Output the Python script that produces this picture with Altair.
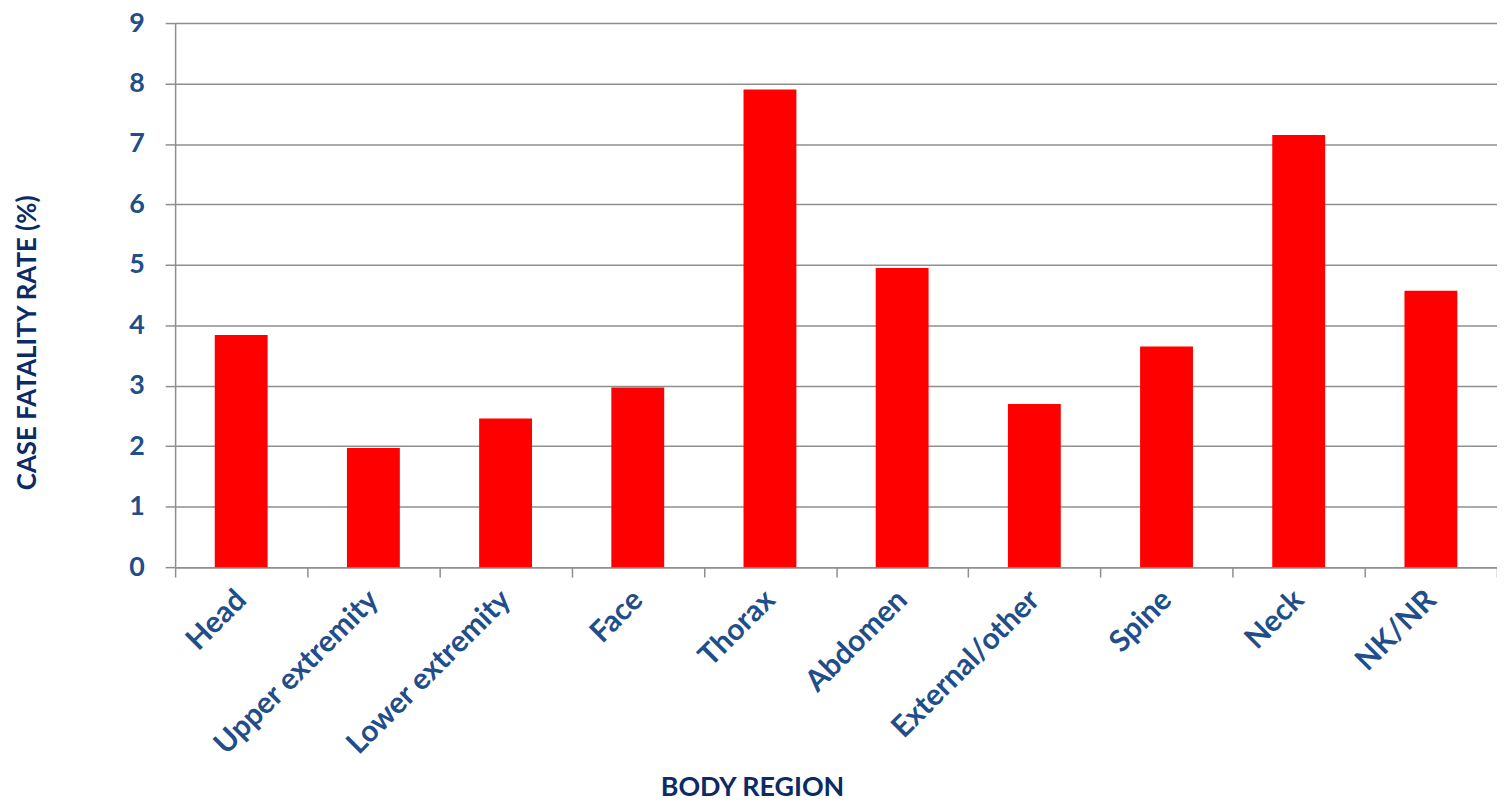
import altair as alt
import pandas as pd

regions = ["Head", "Upper extremity", "Lower extremity", "Face", "Thorax",
           "Abdomen", "External/other", "Spine", "Neck", "NK/NR"]
rates = [3.84, 1.97, 2.46, 2.97, 7.90, 4.95, 2.70, 3.65, 7.15, 4.57]

df = pd.DataFrame({"region": regions, "rate": rates})

W = 1329
H = 547
FONT = "Lato"
LABEL_COLOR = "#1F4E8A"
TITLE_COLOR = "#0B2A66"
GRID = "#8F8F8F"

chart = alt.Chart(df).mark_bar(color="#FF0000", width=alt.RelativeBandSize(0.4)).encode(
    x=alt.X("region:N", sort=regions,
            scale=alt.Scale(paddingInner=0, paddingOuter=0),
            axis=alt.Axis(title="BODY REGION", labelAngle=-45, labelAlign="right",
                          labelBaseline="middle", labelFontSize=30, labelFont=FONT,
                          labelFontWeight="bold", labelColor=LABEL_COLOR,
                          labelPadding=18, labelLimit=500, tickSize=10, tickColor=GRID,
                          tickWidth=1.5, tickBand="extent", domainColor=GRID,
                          domainWidth=1.5, titleFont=FONT, titleFontSize=27,
                          titleFontWeight="bold", titleColor=TITLE_COLOR, titleX=580,
                          titleY=222, titleBaseline="middle", titleAnchor="middle",
                          titleAlign="center", labelOverlap=False)),
    y=alt.Y("rate:Q", scale=alt.Scale(domain=[0, 9], nice=False),
            axis=alt.Axis(title="CASE FATALITY RATE (%)", values=list(range(10)),
                          labelFontSize=27, labelFont=FONT, labelFontWeight="bold",
                          labelColor=LABEL_COLOR, labelPadding=21, tickSize=10,
                          tickColor=GRID, tickWidth=1.5, grid=True, gridColor=GRID,
                          gridWidth=1.5, domainColor=GRID, domainWidth=1.5,
                          titleFont=FONT, titleFontSize=26, titleFontWeight="bold",
                          titleColor=TITLE_COLOR, titleX=-148, titleY=321,
                          titleAngle=-90, titleBaseline="middle", titleAlign="center")),
).properties(
    width=W, height=H,
    autosize=alt.AutoSizeParams(type="none"),
    padding={"left": 168, "top": 13, "right": 0, "bottom": 236},
).configure_view(stroke=None).configure(background="white")

chart.save("out.html", embed_options={"renderer": "svg", "actions": False})
